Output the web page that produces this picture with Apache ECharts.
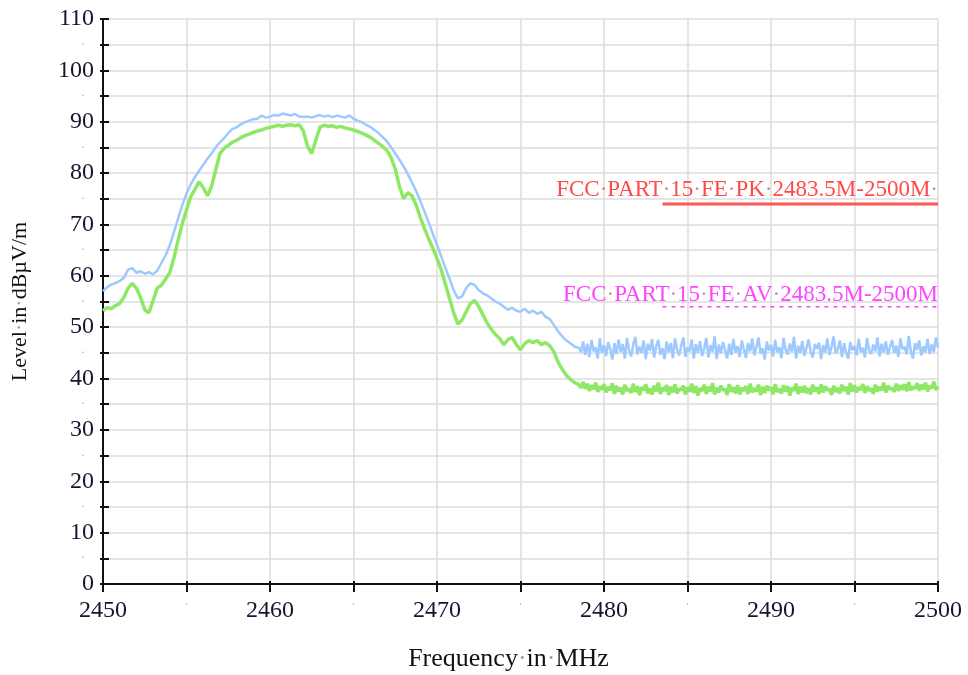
<!DOCTYPE html>
<html>
<head>
<meta charset="utf-8">
<script src="https://cdn.jsdelivr.net/npm/echarts@6/dist/echarts.min.js"></script>
<style>
  html, body { margin: 0; padding: 0; background: #fff; }
  #chart { width: 968px; height: 675px; }
</style>
</head>
<body>
<div id="chart"></div>
<script>
// scan grid: 0.25 MHz steps from 2450 MHz, then 0.125 MHz steps from 2478.5 MHz
var startFreq = 2450;
var stepFreq = 0.25;
var tailStart = 2478.5;
var tailStep = 0.125;

// peak trace (blue), 2450 .. 2478.25, one row per MHz
var peakLevel = [
  57.0, 57.8, 58.3, 58.6,
  59.0, 59.6, 61.2, 61.5,
  60.6, 60.9, 60.4, 60.7,
  60.3, 61.0, 62.5, 64.0,
  66.0, 68.5, 71.2, 73.8,
  76.0, 77.8, 79.2, 80.4,
  81.6, 82.8, 83.8, 85.0,
  86.0, 86.8, 87.8, 88.6,
  88.9, 89.5, 89.9, 90.2,
  90.5, 90.6, 91.2, 90.8,
  91.0, 91.3, 91.2, 91.6,
  91.4, 91.2, 91.5, 91.0,
  90.9, 91.0, 90.8, 91.1,
  91.3, 91.0, 91.2, 90.9,
  91.2, 91.0, 90.8, 91.2,
  90.6, 90.2, 89.9, 89.4,
  89.0, 88.4, 87.8, 87.0,
  86.2, 85.0, 83.8, 82.6,
  81.3, 79.8, 78.2, 76.5,
  74.6, 72.5, 70.4, 68.2,
  66.0, 63.8, 61.6, 59.4,
  57.2, 55.6, 56.0, 57.6,
  58.6, 58.2, 57.2, 56.6,
  56.2, 55.6, 55.0, 54.6,
  54.0, 53.4, 53.8, 53.2,
  53.0, 53.6, 52.8, 53.2,
  52.6, 53.0, 52.0, 51.6,
  50.4, 49.2, 48.2, 47.4,
  46.8, 46.2
];
// peak trace, 2478.5 .. 2500 (noisy floor)
var peakTail = [
  46.0, 45.1, 47.2, 44.6,
  46.8, 44.2, 47.5, 45.3, 46.1, 43.9, 47.8, 45.0,
  46.5, 44.4, 47.1, 45.8, 43.7, 46.9, 44.8, 47.6,
  45.2, 46.7, 43.9, 47.9, 45.5, 44.3, 46.6, 48.1,
  44.7, 46.2, 45.0, 47.4, 43.8, 46.8, 45.4, 47.7,
  44.1, 46.3, 47.5, 44.6, 45.9, 43.8, 47.2, 45.1,
  46.9, 44.0, 47.8, 45.6, 44.5, 46.4, 48.0, 44.2,
  46.1, 45.3, 47.6, 43.9, 46.7, 45.0, 47.3, 44.4,
  45.8, 47.9, 44.1, 46.5, 45.2, 48.2, 43.8, 46.6,
  44.9, 47.1, 45.5, 43.9, 46.8, 44.6, 47.7, 45.1,
  46.3, 44.2, 47.4, 45.7, 44.0, 46.9, 45.3, 47.8,
  44.5, 46.2, 48.0, 44.8, 45.9, 43.7, 47.2, 45.4,
  46.6, 44.3, 47.5, 45.1, 46.1, 44.0, 47.9, 45.6,
  44.7, 46.8, 45.2, 48.1, 43.9, 46.4, 45.0, 47.3,
  44.4, 46.0, 47.6, 45.3, 44.1, 46.7, 45.8, 47.0,
  43.8, 46.5, 45.1, 47.8, 44.6, 46.2, 48.2, 44.9,
  45.7, 47.4, 44.2, 46.9, 45.0, 43.9, 47.1, 45.5,
  46.3, 44.5, 47.7, 45.2, 46.0, 44.1, 47.9, 45.4,
  44.8, 46.6, 45.3, 48.0, 44.3, 46.8, 45.1, 47.2,
  44.6, 46.1, 47.5, 45.0, 46.4, 44.2, 47.8, 45.7,
  46.2, 44.7, 48.3, 45.3, 43.9, 46.9, 45.6, 47.4,
  44.5, 46.3, 45.1, 47.7, 44.8, 46.6, 45.2, 48.0,
  46.0
];

// average trace (green), 2450 .. 2478.25
var avgLevel = [
  53.2, 53.8, 53.6, 54.2,
  54.6, 55.8, 57.6, 58.5,
  57.6, 55.8, 53.4, 52.8,
  55.2, 57.6, 58.2, 59.4,
  60.6, 63.5, 67.0, 70.2,
  72.8, 75.4, 76.8, 78.3,
  77.2, 75.6, 77.4, 80.6,
  83.8, 84.8, 85.4, 86.0,
  86.4, 86.9, 87.3, 87.6,
  87.9, 88.2, 88.4, 88.7,
  88.9, 89.1, 89.3, 89.1,
  89.3, 89.4, 89.2, 89.4,
  88.2, 85.2, 83.8, 86.5,
  89.0, 89.3, 89.1, 89.2,
  88.9, 89.1, 88.8, 88.6,
  88.4, 88.1, 87.8, 87.4,
  87.0, 86.4, 85.8, 85.2,
  84.4, 83.0, 80.8, 77.4,
  75.0, 76.2, 75.6, 73.8,
  71.4, 69.2, 67.2, 65.4,
  63.4, 61.2, 58.4, 55.6,
  52.8, 50.6, 51.4, 53.0,
  54.6, 55.2, 54.0, 52.4,
  50.8, 49.6, 48.6, 47.8,
  46.6, 47.6, 48.0, 46.6,
  45.6, 46.8, 47.4, 47.0,
  47.4, 46.6, 47.0, 46.4,
  45.2, 43.2, 41.8, 40.6,
  39.8, 39.2
];
// average trace, 2478.5 .. 2500
var avgTail = [
  38.8, 38.2, 39.3, 38.0,
  39.0, 37.6, 38.7, 37.9, 39.2, 37.4, 38.5, 37.8,
  38.9, 37.3, 38.4, 37.7, 39.1, 37.0, 38.6, 37.5,
  38.2, 36.9, 38.8, 37.6, 38.0, 37.2, 39.0, 37.4,
  38.5, 36.8, 38.3, 37.7, 38.9, 37.1, 38.1, 36.9,
  38.6, 37.5, 39.2, 37.0, 38.2, 37.6, 38.7, 36.8,
  38.4, 37.3, 38.9, 37.1, 38.0, 37.8, 38.6, 36.9,
  38.3, 37.4, 39.0, 37.2, 38.5, 36.7, 38.1, 37.6,
  38.8, 37.0, 38.4, 37.5, 39.1, 36.9, 38.2, 37.3,
  38.6, 37.7, 38.0, 36.8, 38.9, 37.4, 38.3, 37.1,
  38.7, 36.9, 38.2, 37.6, 38.5, 37.0, 39.0, 37.3,
  38.1, 37.5, 38.8, 36.8, 38.4, 37.2, 38.6, 37.7,
  38.3, 36.9, 38.9, 37.4, 38.0, 37.1, 38.7, 37.5,
  38.5, 36.7, 38.2, 37.6, 39.0, 37.0, 38.4, 37.3,
  38.6, 37.2, 38.1, 36.9, 38.8, 37.5, 38.3, 37.0,
  38.9, 37.3, 38.5, 37.7, 38.0, 36.8, 38.6, 37.4,
  38.2, 37.1, 38.8, 37.6, 38.4, 36.9, 39.1, 37.5,
  38.7, 37.3, 38.3, 37.8, 38.9, 37.2, 38.5, 37.6,
  38.1, 37.0, 38.8, 37.5, 38.4, 37.7, 39.2, 37.3,
  38.6, 37.9, 38.2, 37.4, 39.0, 37.6, 38.7, 37.8,
  38.9, 37.5, 39.3, 37.7, 38.4, 38.0, 39.1, 37.6,
  38.8, 37.9, 39.2, 37.5, 38.6, 38.1, 39.4, 37.8,
  38.5
];

// limit lines
var limitFreq = [2483.5, 2500];
var pkLimit = [74, 74];
var avLimit = [54, 54];
var pkLabel = 'FCC PART 15 FE PK 2483.5M-2500M ';
var avLabel = 'FCC PART 15 FE AV 2483.5M-2500M';

var xName = 'Frequency in MHz';
var yName = 'Level in dBµV/m';

function toPairs(main, tail) {
  var out = main.map(function (v, i) { return [startFreq + i * stepFreq, v]; });
  tail.forEach(function (v, i) { out.push([tailStart + i * tailStep, v]); });
  return out;
}
function limitPairs(ys) {
  return limitFreq.map(function (f, i) { return [f, ys[i]]; });
}
// word-style text: spaces shown as small dots
function dotted(s) {
  return s.split(' ').map(function (w) { return w ? '{a|' + w + '}' : ''; }).join('{d|·}');
}

var serif = '"Liberation Serif", "DejaVu Serif", serif';

var myChart = echarts.init(document.getElementById('chart'));
var option = {
  animation: false,
  backgroundColor: '#ffffff',
  grid: { left: 103, right: 30, top: 19, bottom: 91, outerBoundsMode: 'none', containLabel: false },
  xAxis: [{
    type: 'value',
    min: 2450, max: 2500, interval: 5,
    name: dotted(xName),
    nameLocation: 'middle',
    nameGap: 62,
    nameTextStyle: {
      padding: [0, 24, 0, 0],
      rich: {
        a: { fontFamily: serif, fontSize: 26, color: '#111' },
        d: { fontFamily: serif, fontSize: 26, color: '#999' }
      }
    },
    axisLine: { show: true, onZero: false, lineStyle: { color: '#111', width: 2 } },
    axisTick: { show: true, length: 8, lineStyle: { color: '#111', width: 2 } },
    axisLabel: {
      margin: 15,
      fontFamily: serif, fontSize: 24, color: '#151530',
      formatter: function (v) { return v % 10 === 0 ? String(v) : '{d|·}'; },
      rich: { d: { fontSize: 12, color: '#aaa' } }
    },
    splitLine: { show: true, lineStyle: { color: '#dcdcdc', width: 1.5 } }
  }, {
    type: 'value',
    position: 'bottom',
    min: 2450, max: 2500, interval: 5,
    axisLine: { show: false },
    axisTick: { show: true, inside: true, length: 3, lineStyle: { color: '#111', width: 2 } },
    axisLabel: { show: false },
    splitLine: { show: false }
  }],
  yAxis: [{
    type: 'value',
    min: 0, max: 110, interval: 5,
    name: dotted(yName),
    nameLocation: 'middle',
    nameGap: 72,
    nameRotate: 90,
    nameTextStyle: {
      rich: {
        a: { fontFamily: serif, fontSize: 22, color: '#111' },
        d: { fontFamily: serif, fontSize: 22, color: '#999' }
      }
    },
    axisLine: { show: true, onZero: false, lineStyle: { color: '#111', width: 2 } },
    axisTick: { show: true, length: 3, lineStyle: { color: '#111', width: 2 } },
    axisLabel: {
      margin: 9,
      fontFamily: serif, fontSize: 24, color: '#151530',
      formatter: function (v) { return v % 10 === 0 ? String(v) : '{d|·}'; },
      rich: { d: { fontSize: 12, color: '#aaa', padding: [0, 9, 0, 0] } }
    },
    splitLine: { show: true, lineStyle: { color: '#dcdcdc', width: 1.5 } }
  }, {
    type: 'value',
    position: 'left',
    min: 0, max: 110, interval: 5,
    axisLine: { show: false },
    axisTick: { show: true, inside: true, length: 6, lineStyle: { color: '#111', width: 2 } },
    axisLabel: { show: false },
    splitLine: { show: false }
  }],
  series: [
    {
      name: 'PK',
      type: 'line',
      data: toPairs(peakLevel, peakTail),
      showSymbol: false,
      lineStyle: { color: '#9ec9ff', width: 2.5 },
      z: 3
    },
    {
      name: 'AV',
      type: 'line',
      data: toPairs(avgLevel, avgTail),
      showSymbol: false,
      lineStyle: { color: '#8ee866', width: 3.5 },
      z: 4
    },
    {
      name: 'PK limit',
      type: 'line',
      data: limitPairs(pkLimit).map(function (p, i) {
        return i === 1 ? {
          value: p,
          label: {
            show: true, position: 'top', align: 'right', distance: 2,
            formatter: dotted(pkLabel),
            rich: {
              a: { fontFamily: serif, fontSize: 23, color: '#ff4a4a' },
              d: { fontFamily: serif, fontSize: 23, color: '#c08a80' }
            }
          }
        } : p;
      }),
      symbol: 'circle', symbolSize: 0,
      lineStyle: { color: '#ff5555', width: 3 },
      z: 5
    },
    {
      name: 'AV limit',
      type: 'line',
      data: limitPairs(avLimit).map(function (p, i) {
        return i === 1 ? {
          value: p,
          label: {
            show: true, position: 'top', align: 'right', distance: 0,
            formatter: dotted(avLabel),
            rich: {
              a: { fontFamily: serif, fontSize: 23, color: '#ff44ff' },
              d: { fontFamily: serif, fontSize: 23, color: '#c08ac0' }
            }
          }
        } : p;
      }),
      symbol: 'circle', symbolSize: 0,
      lineStyle: { color: '#ff44ff', width: 1.5, type: [4, 5] },
      z: 5
    }
  ]
};
myChart.setOption(option);
</script>
</body>
</html>
